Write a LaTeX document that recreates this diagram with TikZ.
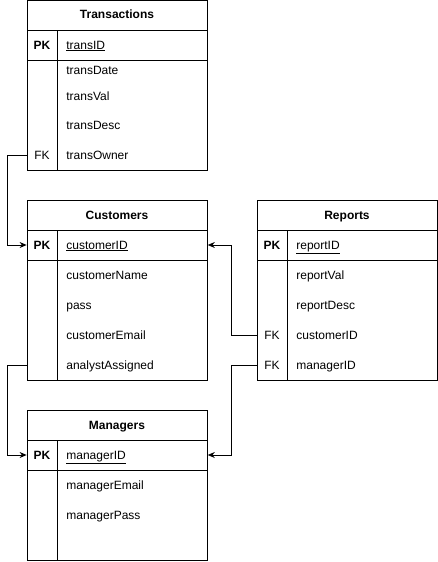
\documentclass[tikz,border=0pt]{standalone}
\usepackage{fontspec}
\setmainfont{Liberation Sans}
\usetikzlibrary{arrows.meta}

\begin{document}
\begin{tikzpicture}[x=1pt, y=-1pt, line width=0.8pt,
  keycell/.style={minimum width=30pt, inner sep=0pt, text height=9.5pt, text depth=1.5pt, font=\fontsize{12}{14}\selectfont},
  pkcell/.style={keycell, font=\fontsize{12}{14}\selectfont\bfseries},
  fieldcell/.style={anchor=west, text width=132pt, inner xsep=9pt, inner ysep=0pt, text height=9.5pt, text depth=1.5pt, align=left, font=\fontsize{12}{14}\selectfont},
  tabletitle/.style={inner sep=0pt, text height=9.5pt, text depth=1.5pt, font=\fontsize{12}{14}\selectfont\bfseries},
  link/.style={-{Stealth[length=7pt, width=6pt]}}]
\useasboundingbox (0,0) rectangle (438,562);

% Transactions
\draw (27,0) rectangle (207,170);
\draw (27,30) -- (207,30);
\draw (27,60) -- (207,60);
\draw (57,30) -- (57,170);
\node[tabletitle] (transT) at (117,15) {Transactions};
\node[pkcell] (transIdK) at (42,45) {PK};
\node[fieldcell] (transIdF) at (57,45) {\underline{transID}};
\node[fieldcell] (transDateF) at (57,70) {transDate};
\node[fieldcell] (transValF) at (57,96) {transVal};
\node[fieldcell] (transDescF) at (57,125) {transDesc};
\node[keycell] (transOwnerK) at (42,155) {FK};
\node[fieldcell] (transOwnerF) at (57,155) {transOwner};

% Customers
\draw (27,200) rectangle (207,380);
\draw (27,230) -- (207,230);
\draw (27,260) -- (207,260);
\draw (57,230) -- (57,380);
\node[tabletitle] (custT) at (117,215) {Customers};
\node[pkcell] (custIdK) at (42,245) {PK};
\node[fieldcell] (custIdF) at (57,245) {\underline{customerID}};
\node[fieldcell] (custNameF) at (57,275) {customerName};
\node[fieldcell] (custPassF) at (57,305) {pass};
\node[fieldcell] (custEmailF) at (57,335) {customerEmail};
\node[keycell] (custAnalystK) at (42,365) {};
\node[fieldcell] (custAnalystF) at (57,365) {analystAssigned};

% Reports
\draw (257,200) rectangle (437,380);
\draw (257,230) -- (437,230);
\draw (257,260) -- (437,260);
\draw (287,230) -- (287,380);
\node[tabletitle] (repT) at (347,215) {Reports};
\node[pkcell] (repIdK) at (272,245) {PK};
\node[fieldcell] (repIdF) at (287,245) {\underline{reportID}};
\node[fieldcell] (repValF) at (287,275) {reportVal};
\node[fieldcell] (repDescF) at (287,305) {reportDesc};
\node[keycell] (repCustK) at (272,335) {FK};
\node[fieldcell] (repCustF) at (287,335) {customerID};
\node[keycell] (repManK) at (272,365) {FK};
\node[fieldcell] (repManF) at (287,365) {managerID};

% Managers
\draw (27,410) rectangle (207,560);
\draw (27,440) -- (207,440);
\draw (27,470) -- (207,470);
\draw (57,440) -- (57,560);
\node[tabletitle] (manT) at (117,425) {Managers};
\node[pkcell] (manIdK) at (42,455) {PK};
\node[fieldcell] (manIdF) at (57,455) {\underline{managerID}};
\node[fieldcell] (manEmailF) at (57,485) {managerEmail};
\node[fieldcell] (manPassF) at (57,515) {managerPass};

% relations
\draw[link] (transOwnerK.west) -- ++(-19,0) |- (custIdK.west);
\draw[link] (custAnalystK.west) -- ++(-19,0) |- (manIdK.west);
\draw[link] (repCustK.west) -- ++(-25,0) |- (custIdF.east);
\draw[link] (repManK.west) -- ++(-25,0) |- (manIdF.east);
\end{tikzpicture}
\end{document}
